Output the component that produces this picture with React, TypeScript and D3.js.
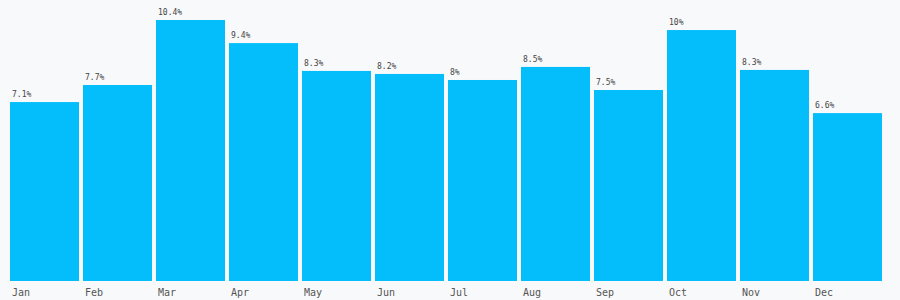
import React from 'react';
import * as d3 from 'd3';

const months = ['Jan', 'Feb', 'Mar', 'Apr', 'May', 'Jun', 'Jul', 'Aug', 'Sep', 'Oct', 'Nov', 'Dec'];
// bar heights
const values = [7.13, 7.81, 10.4, 9.48, 8.37, 8.25, 8.01, 8.53, 7.61, 10.0, 8.41, 6.69];
// labels as printed above the bars
const labels = ['7.1%', '7.7%', '10.4%', '9.4%', '8.3%', '8.2%', '8%', '8.5%', '7.5%', '10%', '8.3%', '6.6%'];

const W = 900;
const H = 300;

export default function App() {
  const x = d3.scaleBand<string>()
    .domain(months)
    .range([10, 882])
    .paddingInner(4 / 73)
    .paddingOuter(0);
  const y = d3.scaleLinear().domain([0, d3.max(values) as number]).range([281, 20]);

  return (
    <svg width={W} height={H} style={{ position: 'fixed', left: 0, top: 0, background: '#f8f9fb', display: 'block' }}
      fontFamily="'DejaVu Sans Mono', monospace">
      <rect width={W} height={H} fill="#f8f9fb" />
      {months.map((m, i) => {
        const v = values[i];
        const bx = x(m) as number;
        return (
          <g key={m}>
            <rect x={bx} y={y(v)} width={x.bandwidth()} height={y(0) - y(v)} fill="#04befc" />
            <text x={bx + 2} y={y(v) - 5} fontSize={8} fill="#444">{labels[i]}</text>
            <text x={bx + 2} y={296} fontSize={10} fill="#555">{m}</text>
          </g>
        );
      })}
    </svg>
  );
}
